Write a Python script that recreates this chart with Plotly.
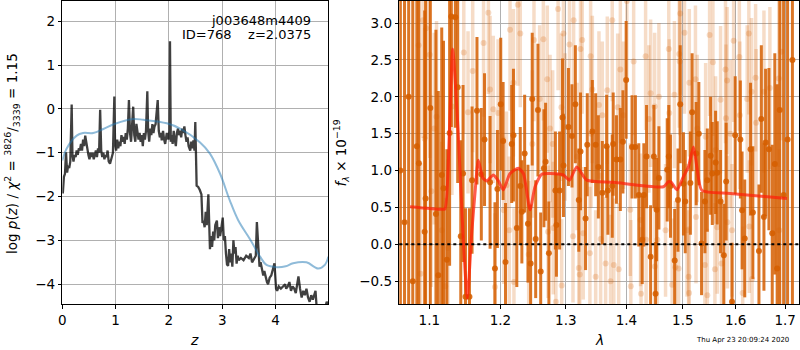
import plotly.graph_objects as go

# ---------------- left panel data: p(z) ----------------
z_grid = [0.00, 0.01, 0.03, 0.05, 0.07, 0.09, 0.11, 0.13, 0.15, 0.176, 0.19, 0.21, 0.23, 0.25, 0.27, 0.29,
          0.31, 0.33, 0.35, 0.37, 0.39, 0.41, 0.43, 0.45, 0.47, 0.49, 0.51, 0.53, 0.55, 0.57, 0.59, 0.61,
          0.63, 0.65, 0.67, 0.69, 0.71, 0.73, 0.75, 0.77, 0.79, 0.81, 0.83, 0.85, 0.87, 0.895, 0.92, 0.95,
          0.976, 0.99, 1.01, 1.03, 1.05, 1.07, 1.09, 1.11, 1.13, 1.15, 1.17, 1.19, 1.21, 1.23, 1.25, 1.27,
          1.29, 1.31, 1.33, 1.35, 1.37, 1.39, 1.41, 1.43, 1.45, 1.47, 1.49, 1.51, 1.53, 1.55, 1.57, 1.595,
          1.61, 1.63, 1.65, 1.67, 1.69, 1.71, 1.73, 1.75, 1.79, 1.81, 1.83, 1.85, 1.865, 1.89, 1.91, 1.93,
          1.96, 1.99, 2.01, 2.02, 2.035, 2.05, 2.07, 2.09, 2.11, 2.13, 2.15, 2.17, 2.19, 2.21, 2.23, 2.25,
          2.27, 2.29, 2.31, 2.33, 2.35, 2.37, 2.40, 2.42, 2.44, 2.46, 2.48, 2.495, 2.52, 2.55, 2.58, 2.61,
          2.63, 2.65, 2.67, 2.69, 2.71, 2.74, 2.77, 2.79, 2.81, 2.83, 2.85, 2.87, 2.90, 2.92, 2.94, 2.96,
          2.98, 3.01, 3.03, 3.05, 3.07, 3.09, 3.11, 3.13, 3.15, 3.17, 3.19, 3.21, 3.23, 3.25, 3.27, 3.29,
          3.31, 3.35, 3.40, 3.45, 3.50, 3.53, 3.56, 3.60, 3.63, 3.65, 3.67, 3.70, 3.72, 3.75, 3.77, 3.79,
          3.82, 3.84, 3.86, 3.89, 3.92, 3.95, 3.98, 4.01, 4.03, 4.06, 4.10, 4.14, 4.18, 4.20, 4.23, 4.26,
          4.29, 4.32, 4.35, 4.38, 4.41, 4.43, 4.46, 4.49, 4.52, 4.55, 4.58, 4.61, 4.64, 4.67, 4.70, 4.73,
          4.75, 4.77, 4.80, 4.86, 4.93, 4.96, 4.99]
log_pz = [-1.80, -1.93, -1.55, -1.48, -0.99, -1.45, -1.30, -1.35, -1.20, 0.10, -1.05, -1.20, -1.05, -1.10, -0.95, -1.05,
          -0.90, -0.95, -0.80, -0.95, -0.70, -0.85, -0.61, -0.80, -0.95, -1.05, -1.15, -1.00, -1.10, -1.00, -1.15, -1.05,
          -0.95, -1.10, -0.90, -1.00, -0.02, -0.95, -1.10, -1.00, -1.15, -1.05, -1.10, -0.95, -1.20, -1.25, -1.10, -1.00,
          0.28, -0.80, -0.95, -0.70, -0.90, -0.75, -0.85, -0.60, -0.75, -0.64, -0.80, -0.55, -0.70, -0.45, 0.20, -0.55,
          -0.75, -0.30, 0.05, -0.60, -0.75, -0.34, -0.60, -0.70, -0.55, -0.75, -0.60, -0.85, -0.55, -0.70, -0.50, 0.40,
          -0.50, -0.75, -0.45, -0.60, -0.35, -0.55, -0.40, -0.35, 0.20, -0.50, -0.65, -0.55, -0.72, -0.50, -0.70, -0.80,
          -0.55, -0.70, -0.50, 1.54, -0.75, -0.60, -0.80, -0.50, -0.70, -0.85, -0.55, -0.45, -0.60, -0.50, -0.65, -0.45,
          -0.55, -0.40, -0.60, -0.75, -0.65, -0.85, -0.95, -0.75, -0.90, -0.72, -0.95, -0.30, -1.75, -1.78, -1.85, -1.95,
          -2.60, -2.55, -2.70, -2.35, -2.65, -1.95, -3.20, -2.90, -3.15, -2.80, -3.00, -2.65, -2.55, -2.95, -2.70, -2.90,
          -2.75, -2.48, -3.00, -2.90, -3.30, -3.55, -3.58, -3.20, -3.50, -3.30, -3.60, -3.00, -3.30, -3.15, -3.53, -3.35,
          -3.45, -3.40, -3.45, -3.35, -3.40, -3.30, -3.50, -3.40, -3.35, -2.58, -3.10, -3.60, -3.50, -3.70, -3.80, -3.70,
          -3.90, -3.95, -4.00, -3.85, -3.80, -3.65, -3.52, -4.10, -4.15, -4.05, -4.10, -4.05, -4.00, -4.10, -4.05, -3.95,
          -4.15, -4.05, -4.10, -4.20, -4.00, -3.82, -4.10, -4.30, -4.15, -4.25, -4.10, -4.30, -4.40, -4.25, -4.35, -4.20,
          -4.15, -4.50, -4.60, -4.60, -4.55, -4.40, -4.45]

z_prior = [0.00, 0.08, 0.27, 0.39, 0.58, 0.77, 0.99, 1.33, 1.52, 1.96, 2.21, 2.58, 2.77, 2.96, 3.14, 3.30,
           3.53, 3.71, 3.83, 4.02, 4.19, 4.33, 4.58, 4.80, 4.93, 4.99]
log_prior = [-1.18, -0.91, -0.61, -0.55, -0.55, -0.46, -0.34, -0.23, -0.25, -0.33, -0.45, -0.76, -1.02, -1.48, -2.08, -2.54,
             -2.99, -3.37, -3.56, -3.61, -3.59, -3.52, -3.50, -3.64, -3.55, -3.37]

# ---------------- right panel data: spectrum ----------------
wave_a = [1.0618, 1.0672, 1.0726, 1.0780, 1.0834, 1.0861, 1.0938, 1.0951, 1.1014, 1.1090, 1.1122, 1.1169, 1.1193,
          1.1239, 1.1277, 1.1301, 1.1357, 1.1389, 1.1432, 1.1464, 1.1498, 1.1554, 1.1591, 1.1661, 1.1723, 1.1769,
          1.1849, 1.1920, 1.1956, 1.2005, 1.2040, 1.2075, 1.2167, 1.2193, 1.2243, 1.2295, 1.2319, 1.2361, 1.2411,
          1.2452, 1.2476, 1.2529, 1.2564, 1.2606, 1.2656, 1.2682, 1.2733, 1.2835, 1.2851, 1.2901, 1.2947, 1.2962,
          1.3041, 1.3098, 1.3152, 1.3207, 1.3235, 1.3317, 1.3345, 1.3428, 1.3483, 1.3527, 1.3593, 1.3665, 1.3686,
          1.3759, 1.3775, 1.3830, 1.3896, 1.3940, 1.3995, 1.4096, 1.4154, 1.4213, 1.4273, 1.4301, 1.4349, 1.4420,
          1.4478, 1.4508, 1.4526, 1.4567, 1.4716, 1.4744, 1.4775, 1.4851, 1.4911, 1.4952, 1.5011, 1.5044, 1.5139,
          1.5171, 1.5247, 1.5296, 1.5347, 1.5410, 1.5456, 1.5518, 1.5550, 1.5613, 1.5645, 1.5708, 1.5771, 1.5816,
          1.5930, 1.5992, 1.6093, 1.6127, 1.6180, 1.6295, 1.6341, 1.6463, 1.6511, 1.6564, 1.6598, 1.6665, 1.6733,
          1.6786, 1.6834, 1.6887, 1.6968, 1.7050, 1.7151]
flux_a = [1.00, 0.30, 2.00, -0.50, 1.33, 1.10, 0.17, 0.62, 1.85, 0.41, -0.42, 0.94, 0.76,
          -0.21, 1.51, 3.09, 3.08, 2.13, 0.11, 0.96, -0.71, -0.71, 0.87, 1.81, 0.95, 1.42,
          0.84, -0.33, 0.75, 1.90, 1.40, -0.24, 1.36, 1.48, 0.22, 0.79, 0.44, 1.23, 0.28,
          -0.26, 1.97, 0.07, 1.82, -0.37, 1.03, 1.12, -0.12, 0.73, 0.26, 0.73, 1.72, 1.07,
          1.59, 1.47, 1.90, 0.60, 1.26, 0.35, 1.35, 1.53, 1.35, 1.05, 0.70, 1.33, 0.73,
          0.79, 1.36, 1.15, 1.15, 1.39, 2.23, 1.32, 1.32, 0.67, 0.06, 0.67, 1.19, -0.17,
          1.19, -0.67, 0.47, 0.90, 1.01, 1.19, 0.79, -0.22, 0.60, 1.90, 0.82, 0.58, 0.83,
          1.79, 1.23, 1.50, 0.01, 0.58, 0.87, 1.20, 0.96, 1.11, 0.97, 0.58, -0.15, 0.85,
          -0.78, 1.48, 1.42, 0.46, 0.08, 1.29, 0.43, -0.09, 1.70, 0.37, 1.38, 1.29, 0.15,
          1.09, -0.33, 1.82, 0.67, 1.42, 2.50]
err_a = [4.0, 4.0, 4.0, 4.0, 3.5, 3.5, 3.0, 3.0, 3.0, 2.5, 2.5, 2.0, 2.0,
         1.5, 1.8, 1.5, 1.5, 1.3, 1.3, 1.2, 1.2, 1.2, 1.0, 1.0, 0.9, 0.9,
         0.9, 0.9, 0.8, 0.9, 0.8, 0.8, 0.8, 0.9, 0.8, 0.8, 0.7, 0.8, 0.8,
         0.8, 0.9, 0.8, 0.9, 0.8, 0.8, 0.8, 0.7, 0.8, 0.7, 0.8, 0.8, 0.7,
         0.8, 0.7, 0.8, 0.7, 0.8, 0.7, 0.7, 0.7, 0.7, 0.7, 0.7, 0.7, 0.6,
         0.7, 0.7, 0.6, 0.7, 0.7, 0.8, 0.7, 0.7, 0.7, 0.6, 0.7, 0.7, 0.7,
         0.7, 0.7, 0.7, 0.7, 0.7, 0.7, 0.7, 0.7, 0.7, 0.8, 0.7, 0.7, 0.7,
         0.8, 0.7, 0.7, 0.7, 0.7, 0.7, 0.8, 0.7, 0.7, 0.7, 0.7, 0.7, 0.8,
         0.8, 0.8, 0.8, 0.8, 0.8, 0.9, 0.9, 0.9, 1.0, 1.0, 1.0, 1.1, 1.2,
         1.5, 2.5, 4.0, 4.0, 4.0, 4.0]

wave_b = [1.0857, 1.0884, 1.0915, 1.0938, 1.0958, 1.1006, 1.1028, 1.1066, 1.1098, 1.1169, 1.1217, 1.1253, 1.1309,
          1.1474, 1.1534, 1.1600, 1.1755, 1.1825, 1.1849, 1.1896, 1.1920, 1.1966, 1.2050, 1.2090, 1.2131, 1.2142,
          1.2193, 1.2200, 1.2258, 1.2295, 1.2422, 1.2478, 1.2503, 1.2590, 1.2647, 1.2708, 1.2720, 1.2751, 1.2792,
          1.2801, 1.2842, 1.2877, 1.2929, 1.2934, 1.2962, 1.2988, 1.3058, 1.3114, 1.3124, 1.3180, 1.3207, 1.3223,
          1.3235, 1.3263, 1.3279, 1.3388, 1.3400, 1.3408, 1.3428, 1.3483, 1.3537, 1.3565, 1.3593, 1.3648, 1.3676,
          1.3731, 1.3759, 1.3785, 1.3851, 1.3868, 1.3896, 1.3950, 1.4007, 1.4066, 1.4075, 1.4124, 1.4243, 1.4252,
          1.4332, 1.4341, 1.4390, 1.4420, 1.4491, 1.4496, 1.4539, 1.4567, 1.4686, 1.4744, 1.4753, 1.4805, 1.4846,
          1.4863, 1.4922, 1.4934, 1.4943, 1.4952, 1.5030, 1.5076, 1.5106, 1.5115, 1.5119, 1.5233, 1.5243, 1.5266,
          1.5410, 1.5424, 1.5456, 1.5499, 1.5562, 1.5600, 1.5613, 1.5645, 1.5708, 1.5727, 1.5803, 1.5812, 1.5835,
          1.5840, 1.5898, 1.5930, 1.5961, 1.6073, 1.6083, 1.6139, 1.6228, 1.6261, 1.6270, 1.6315, 1.6325, 1.6396,
          1.6406, 1.6564, 1.6685, 1.6867, 1.6877, 1.6921]
flux_b = [2.70, -0.40, 3.04, 1.43, 2.93, 2.57, 0.72, 1.57, 1.73, 0.19, -0.57, -0.05, 1.87,
          2.60, 1.79, 2.35, 2.73, 3.14, 2.10, 1.83, -0.58, 1.78, 0.46, 0.80, 0.19, 2.91,
          2.19, -0.51, 3.25, 2.86, -0.14, 1.36, 2.77, 1.97, 2.78, 2.24, 0.17, 1.57, 1.36,
          0.22, -0.78, 3.19, 1.86, -0.56, 2.86, 1.59, 2.71, 0.11, 3.04, 1.19, -0.32, -0.41,
          2.65, 2.77, 0.15, -0.12, 2.55, 1.50, 2.10, -0.44, 1.89, 0.07, 1.75, -0.26, 2.09,
          -0.50, 3.04, -0.28, 1.86, -0.34, 2.37, 1.75, 3.30, 0.47, -0.57, 2.48, 0.33, -0.67,
          2.55, 0.06, 1.70, 2.05, 1.87, -0.30, 0.06, 2.00, 0.19, 2.65, 1.78, -0.55, 2.03,
          -0.31, -0.33, 2.58, 2.48, 3.13, 2.87, 0.19, -0.44, -0.66, 2.19, 2.24, 0.37, 1.57,
          -0.28, 1.46, -0.69, 2.84, 2.47, -0.34, 1.28, 0.23, 1.96, -0.26, 2.37, 1.71, 2.22,
          0.30, 1.50, 0.19, 2.76, 2.54, 1.75, -0.66, 1.97, 2.86, 0.24, 2.07, -0.47, 2.26,
          1.65, 2.07, 2.12, 2.25, 0.19, 2.61]
err_b = [1.6, 1.5, 1.6, 1.5, 1.5, 1.4, 1.3, 1.3, 1.3, 1.2, 1.2, 1.2, 1.2,
         1.1, 1.1, 1.1, 1.0, 1.1, 1.0, 1.0, 1.0, 1.0, 1.0, 1.0, 1.0, 1.1,
         1.0, 1.0, 1.1, 1.0, 1.0, 1.0, 1.1, 1.0, 1.1, 1.0, 0.9, 1.0, 1.0,
         0.9, 1.0, 1.1, 1.0, 0.9, 1.1, 1.0, 1.1, 0.9, 1.1, 1.0, 0.9, 0.9,
         1.1, 1.0, 0.9, 0.9, 1.0, 1.0, 1.0, 0.9, 1.0, 0.9, 1.0, 0.9, 1.0,
         0.9, 1.1, 0.9, 1.0, 0.9, 1.0, 1.0, 1.1, 0.9, 0.9, 1.0, 0.9, 0.9,
         1.0, 0.9, 1.0, 1.0, 1.0, 0.9, 0.9, 1.0, 0.9, 1.1, 1.0, 0.9, 1.0,
         0.9, 0.9, 1.0, 1.0, 1.1, 1.1, 0.9, 0.9, 0.9, 1.0, 1.0, 0.9, 1.0,
         0.9, 1.0, 0.9, 1.1, 1.0, 0.9, 1.0, 0.9, 1.0, 0.9, 1.0, 1.0, 1.0,
         0.9, 1.0, 0.9, 1.1, 1.0, 1.0, 0.9, 1.0, 1.1, 0.9, 1.0, 0.9, 1.0,
         1.0, 1.1, 1.1, 1.2, 1.1, 1.2]

wave_model = [1.0744, 1.1168, 1.1213, 1.1273, 1.1320, 1.1397, 1.1467, 1.1524, 1.1586, 1.1633, 1.1680, 1.1744,
              1.1801, 1.1896, 1.1970, 1.2043, 1.2142, 1.2266, 1.2342, 1.2443, 1.2519, 1.2622, 1.2752, 1.2960,
              1.3057, 1.3175, 1.3337, 1.3779, 1.4648, 1.4738, 1.4790, 1.4891, 1.5012, 1.5103, 1.5196, 1.5259,
              1.5353, 1.5894, 1.7037]
flux_model = [0.51, 0.475, 0.48, 1.50, 2.65, 1.50, 0.06, -0.73, 0.15, 0.70, 1.14, 0.90,
              0.86, 0.94, 0.86, 0.74, 0.96, 1.03, 0.96, 0.47, 0.78, 0.95, 0.96, 0.94,
              0.87, 1.05, 0.87, 0.84, 0.78, 0.85, 0.84, 0.74, 0.92, 1.05, 1.32, 1.05,
              0.73, 0.69, 0.62]

zero_level = 0.0
wave_ticks = [1.1, 1.2, 1.3, 1.4, 1.5, 1.6, 1.7]
wave_ticktext = ["1.1", "1.2", "1.3", "1.4", "1.5", "1.6", "1.7"]

title_line1 = "j003648m4409"
title_line2 = "ID=768    z=2.0375"
timestamp = "Thu Apr 23 20:09:24 2020"

# ---------------- figure ----------------
W, H = 800, 350
ORANGE = "213,94,0"

fig = go.Figure()

fig.add_trace(go.Scatter(x=z_grid, y=log_pz, mode="lines", xaxis="x", yaxis="y",
                         line=dict(color="rgba(0,0,0,0.75)", width=2.3), showlegend=False))
fig.add_trace(go.Scatter(x=z_prior, y=log_prior, mode="lines", xaxis="x", yaxis="y",
                         line=dict(color="rgba(31,119,180,0.5)", width=2, shape="spline"), showlegend=False))

fig.add_trace(go.Scatter(x=wave_b, y=flux_b, mode="markers", xaxis="x2", yaxis="y2",
                         marker=dict(color=f"rgba({ORANGE},0.22)", size=6, line=dict(width=0)),
                         error_y=dict(type="data", array=err_b, color=f"rgba({ORANGE},0.22)",
                                      thickness=3.5, width=0),
                         showlegend=False))
fig.add_trace(go.Scatter(x=wave_a, y=flux_a, mode="markers", xaxis="x2", yaxis="y2",
                         marker=dict(color=f"rgba({ORANGE},0.88)", size=6, line=dict(width=0)),
                         error_y=dict(type="data", array=err_a, color=f"rgba({ORANGE},0.85)",
                                      thickness=3, width=0),
                         showlegend=False))
fig.add_trace(go.Scatter(x=wave_model, y=flux_model, mode="lines", xaxis="x2", yaxis="y2",
                         line=dict(color="rgba(255,30,10,0.72)", width=3, shape="spline", smoothing=0.6),
                         showlegend=False))

fig.add_shape(type="line", xref="x2 domain", yref="y2", x0=0, x1=1, y0=zero_level, y1=zero_level,
              line=dict(color="black", width=2, dash="dot"), layer="above")

axis_common = dict(showline=True, linecolor="black", linewidth=1, mirror=True, automargin=False,
                   ticks="outside", ticklen=3.5, tickwidth=1, tickcolor="black",
                   showgrid=True, gridcolor="#b0b0b0", gridwidth=1, zeroline=False,
                   tickfont=dict(family="DejaVu Sans", size=13.5, color="black"))

y_dom = [1 - 304 / H, 1 - 1 / H]
fig.update_layout(
    width=W, height=H, margin=dict(l=0, r=0, t=0, b=0, autoexpand=False),
    plot_bgcolor="white", paper_bgcolor="white",
    font=dict(family="DejaVu Sans", color="black"),
    xaxis=dict(domain=[62.3 / W, 328.3 / W], range=[0, 4.99], anchor="y",
               tickvals=[0, 1, 2, 3, 4], **axis_common),
    yaxis=dict(domain=y_dom, range=[-4.45, 2.46], anchor="x",
               tickvals=[-4, -3, -2, -1, 0, 1, 2], **axis_common),
    xaxis2=dict(domain=[399.3 / W, 799 / W], type="log", range=[0.02547, 0.23779], anchor="y2",
                tickvals=wave_ticks, ticktext=wave_ticktext, **axis_common),
    yaxis2=dict(domain=y_dom, range=[-0.81, 3.30], anchor="x2",
                tickvals=[-0.5, 0, 0.5, 1.0, 1.5, 2.0, 2.5, 3.0], tickformat=".1f", **axis_common),
)

ann = [
    dict(x=313 / W, y=1 - 20 / H, text=title_line1, xanchor="right", yanchor="middle", font=dict(size=13)),
    dict(x=313 / W, y=1 - 34.5 / H, text=title_line2, xanchor="right", yanchor="middle", font=dict(size=13)),
    dict(x=194 / W, y=1 - 340 / H, text="<i>z</i>", xanchor="center", yanchor="middle", font=dict(size=14)),
    dict(x=599 / W, y=1 - 340 / H, text="<i>λ</i>", xanchor="center", yanchor="middle", font=dict(size=14)),
    dict(x=12 / W, y=1 - 154 / H, textangle=-90, xanchor="center", yanchor="middle", font=dict(size=13.5),
         text="log <i>p</i>(<i>z</i>) / <i>χ</i><sup>2</sup> = <sup>3826</sup>/<sub>3339</sub> = 1.15"),
    dict(x=341.5 / W, y=1 - 153 / H, textangle=-90, xanchor="center", yanchor="middle", font=dict(size=13.5),
         text="<i>f</i><sub><i>λ</i></sub> × 10<sup>−19</sup>"),
    dict(x=742 / W, y=1 - 339.5 / H, text=timestamp, xanchor="center", yanchor="middle", font=dict(size=7)),
]
for a in ann:
    a.update(xref="paper", yref="paper", showarrow=False)
fig.update_layout(annotations=ann)

fig.write_html("out.html", config={"displayModeBar": False},
               post_script="document.body.style.margin='0';document.body.style.overflow='hidden';")
